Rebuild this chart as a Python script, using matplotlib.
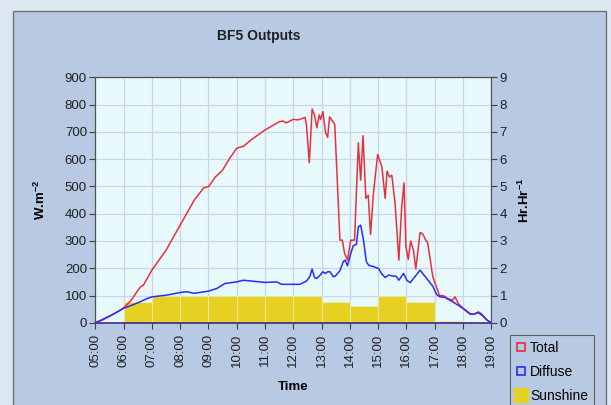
import numpy as np
import matplotlib.pyplot as plt
from matplotlib.lines import Line2D
from matplotlib.patches import Rectangle

plt.rcParams['font.family'] = ['Liberation Sans', 'DejaVu Sans']
plt.rcParams['mathtext.fontset'] = 'custom'
plt.rcParams['mathtext.rm'] = 'Liberation Sans'
plt.rcParams['mathtext.bf'] = 'Liberation Sans:bold'

# Total irradiance (W.m-2)
total_time = ["05:00", "05:15", "05:30", "05:45", "06:00", "06:15", "06:30", "06:36", "06:42",
              "07:00", "07:30", "08:00", "08:30", "08:50", "09:00", "09:15", "09:30", "09:45",
              "10:00", "10:15", "10:30", "11:00", "11:30", "11:38", "11:45", "12:00", "12:10",
              "12:20", "12:25", "12:28", "12:34", "12:40", "12:45", "12:50", "12:55", "12:58",
              "13:03", "13:08", "13:13", "13:17", "13:22", "13:28", "13:39", "13:44", "13:49",
              "13:55", "14:02", "14:10", "14:18", "14:23", "14:28", "14:34", "14:39", "14:44",
              "14:50", "14:59", "15:08", "15:15", "15:19", "15:24", "15:29", "15:36", "15:44",
              "15:50", "15:55", "15:59", "16:04", "16:09", "16:15", "16:20", "16:29", "16:35",
              "16:41", "16:45", "16:56", "17:10", "17:19", "17:27", "17:38", "17:43", "17:50",
              "18:00", "18:15", "18:22", "18:33", "18:40", "18:51", "19:00"]
total_vals = [0, 10, 24, 38, 55, 80, 118, 132, 138,
              193, 266, 358, 450, 495, 499, 535, 560, 603,
              640, 648, 670, 707, 737, 740, 733, 746, 744,
              750, 753, 725, 587, 784, 762, 715, 762, 746,
              774, 700, 680, 755, 743, 727, 303, 303, 254,
              230, 303, 303, 660, 523, 686, 456, 468, 324,
              474, 617, 572, 456, 556, 535, 541, 438, 230,
              425, 513, 279, 232, 300, 266, 197, 331, 325,
              303, 295, 169, 101, 99, 89, 83, 95, 71,
              53, 34, 31, 40, 32, 10, 0]

# Diffuse irradiance (W.m-2)
diff_time = ["05:00", "05:30", "06:00", "06:30", "06:50", "07:00", "07:30", "08:00", "08:14",
             "08:30", "09:00", "09:18", "09:35", "10:00", "10:14", "11:00", "11:25", "11:35",
             "12:00", "12:14", "12:28", "12:35", "12:40", "12:45", "12:50", "12:57", "13:03",
             "13:08", "13:13", "13:18", "13:25", "13:29", "13:39", "13:46", "13:50", "13:55",
             "14:01", "14:07", "14:14", "14:18", "14:23", "14:29", "14:35", "14:40", "14:52",
             "15:01", "15:07", "15:15", "15:22", "15:33", "15:38", "15:44", "15:54", "16:01",
             "16:08", "16:29", "16:40", "16:47", "16:56", "17:04", "17:11", "17:22", "17:40",
             "18:00", "18:15", "18:22", "18:33", "18:40", "18:51", "19:00"]
diff_vals = [0, 24, 53, 73, 89, 95, 101, 111, 114,
             108, 116, 126, 144, 150, 156, 148, 150, 141,
             141, 141, 153, 169, 197, 166, 163, 175, 187,
             181, 187, 187, 169, 171, 191, 224, 230, 209,
             248, 282, 288, 352, 358, 303, 224, 211, 205,
             199, 181, 166, 175, 171, 171, 156, 181, 156,
             147, 193, 169, 154, 134, 104, 95, 93, 75,
             53, 32, 31, 37, 28, 10, 0]

# Sunshine hours per hour
sun_start = [6, 7, 8, 9, 10, 11, 12, 13, 14, 15, 16, 17]
sun_vals = [0.77, 1.0, 1.0, 1.0, 1.0, 1.0, 1.0, 0.77, 0.62, 1.0, 0.75, 0.08]

hour_ticks = list(range(5, 20))
hour_labels = ["%02d:00" % h for h in hour_ticks]


def to_hours(ts):
    return np.array([int(t[:2]) + int(t[3:]) / 60 for t in ts])


fig = plt.figure(figsize=(6.11, 4.05), dpi=100, facecolor='#dde7f1')
fig.patches.append(Rectangle((13 / 611, -0.05), (606 - 13) / 611, 1.05 - 11 / 405,
                             transform=fig.transFigure, facecolor='#b8c9e3',
                             edgecolor='#707070', linewidth=1.0, zorder=-5))

ax2 = fig.add_axes([0.156, 0.203, 0.648, 0.606])
ax2.set_zorder(1)
ax = ax2.twinx()
ax.set_zorder(2)
ax.patch.set_visible(False)
ax2.set_facecolor('#e8f9fc')

# bars and grid on the secondary axis, behind the lines
ax2.bar(sun_start, sun_vals, width=1.0, align='edge', color='#e6d022',
        edgecolor='#f0f0e0', linewidth=0.4, zorder=2)
ax2.set_ylim(0, 9)
ax2.set_yticks(range(0, 10))
ax2.grid(True, color='#c9d3ea', linewidth=0.9, zorder=0)
ax2.set_axisbelow(True)
ax2.yaxis.tick_right()
ax2.yaxis.set_label_position('right')

ax.plot(to_hours(total_time), total_vals, color='#e8303c', linewidth=1.1, zorder=3)
ax.plot(to_hours(diff_time), diff_vals, color='#2a2aff', linewidth=1.1, zorder=3)
ax.set_ylim(0, 900)
ax.set_yticks(range(0, 1000, 100))
ax.yaxis.tick_left()
ax.yaxis.set_label_position('left')
ax.set_xlim(5, 19)
ax2.set_xlim(5, 19)
ax2.set_xticks(hour_ticks)
ax2.set_xticklabels(hour_labels, rotation=90)

for a in (ax, ax2):
    a.tick_params(direction='out', length=4, width=0.8, color='#404040',
                  labelsize=9.5, labelcolor='#202020', pad=2)
    for s in a.spines.values():
        s.set_color('#505050')
        s.set_linewidth(0.8)
ax2.tick_params(axis='x', pad=4)
ax2.spines['bottom'].set_color('#3a2a90')
ax2.spines['bottom'].set_linewidth(1.2)
ax.spines['bottom'].set_visible(False)

ax.set_ylabel(r'W.m$^{\mathbf{-2}}$', fontsize=9.5, fontweight='bold', labelpad=12)
ax2.set_ylabel(r'Hr.Hr$^{\mathbf{-1}}$', fontsize=9.5, fontweight='bold', labelpad=7)
ax2.set_xlabel('Time', fontsize=9.5, fontweight='bold', labelpad=10)
fig.text(259 / 611, 1 - 36 / 405, 'BF5 Outputs', fontsize=10, fontweight='bold',
         ha='center', va='center', color='#202020')

handles = [
    Line2D([], [], linestyle='none', marker='s', markersize=6, markerfacecolor='none',
           markeredgecolor='#e8303c', markeredgewidth=1.2),
    Line2D([], [], linestyle='none', marker='s', markersize=6, markerfacecolor='none',
           markeredgecolor='#2a2aff', markeredgewidth=1.2),
    Line2D([], [], linestyle='none', marker='s', markersize=10, markerfacecolor='#e6d022',
           markeredgecolor='#e6d022'),
]
leg = fig.legend(handles, ['Total', 'Diffuse', 'Sunshine'], loc='upper left',
                 bbox_to_anchor=(510 / 611, 1 - 335 / 405), fontsize=10,
                 frameon=True, fancybox=False, facecolor='#b8c9e3', edgecolor='#606060',
                 labelspacing=0.7, handlelength=0.7, handletextpad=0.3, borderpad=0.45,
                 borderaxespad=0, framealpha=1)
leg.get_frame().set_linewidth(0.8)

fig.savefig('out.png', dpi=100, facecolor=fig.get_facecolor())
